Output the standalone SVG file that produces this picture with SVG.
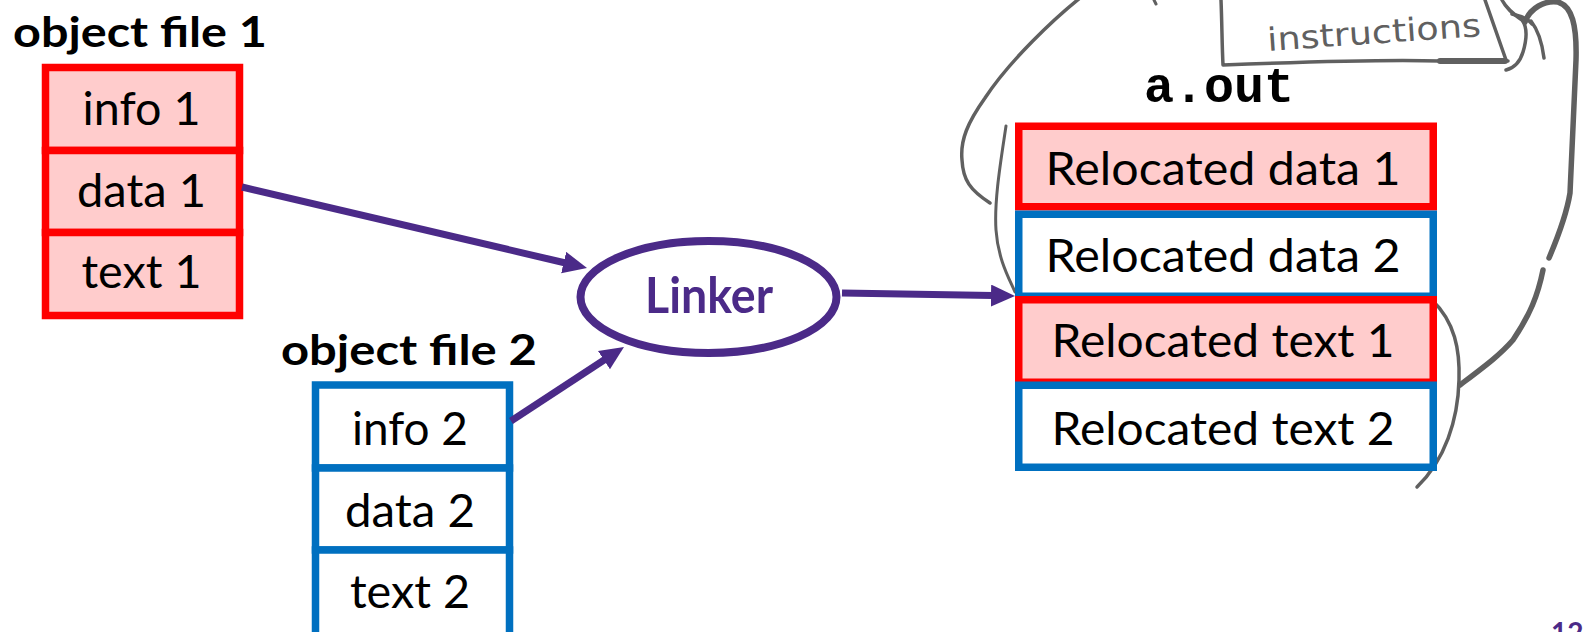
<svg xmlns="http://www.w3.org/2000/svg" width="1583" height="632" viewBox="0 0 1583 632">
<defs>
<marker id="ah" markerUnits="userSpaceOnUse" markerWidth="26" markerHeight="24" refX="2" refY="11" orient="auto">
<path d="M0,0 L24,11 L0,22 z" fill="#4B2A88"/>
</marker>
<style>
.red rect{fill:#FFCCCC;stroke:#FF0000;stroke-width:7.5}
.blue rect{fill:#FFFFFF;stroke:#0070C0;stroke-width:7.5}
.lbl{font-family:Lato,"Liberation Sans",sans-serif;font-size:46px;fill:#000000;text-anchor:middle}
.title{font-family:Lato,"Liberation Sans",sans-serif;font-size:42px;font-weight:bold;fill:#000000}
.conn{stroke:#4B2A88;stroke-width:7;fill:none;marker-end:url(#ah)}
.ink{stroke:#606060;fill:none;stroke-linecap:round;stroke-linejoin:round}
</style>
</defs>
<rect x="0" y="0" width="1583" height="632" fill="#FFFFFF"/>

<g id="annotations">
<path class="ink" stroke-width="3.5" d="M1080,-2 C1055,18 1010,60 985,98 C968,122 960,140 962,160 C963,180 970,190 990,203"/>
<path class="ink" stroke-width="3" d="M1006,126 C1001,160 994,200 996,230 C998,260 1010,280 1015,292"/>
<path class="ink" stroke-width="3.5" d="M1221,0 C1222,25 1222,45 1223,65 C1300,62 1380,59 1440,61 L1508,61"/>
<path class="ink" stroke-width="6" d="M1440,61 L1505,61"/>
<path class="ink" stroke-width="3.5" d="M1485,0 L1506,60"/>
<path class="ink" stroke-width="3.5" d="M1502,0 C1506,8 1512,13 1522,20 C1528,28 1526,42 1523,52 C1520,62 1514,68 1506,70"/>
<path class="ink" stroke-width="3.5" d="M1512,14 C1520,16 1528,18 1532,24 M1531,21 C1538,30 1542,42 1544,58"/>
<path class="ink" stroke-width="3" d="M1154,0 L1156,4"/>
<path class="ink" stroke-width="5.5" d="M1525,22 C1530,8 1545,0 1558,2 C1572,6 1577,25 1576,60 L1573,127 L1570,193 C1567,212 1560,232 1549,258 M1543,270 C1538,295 1530,315 1513,340 C1500,355 1485,366 1460,385"/>
<path class="ink" stroke-width="3.5" d="M1432,300 C1455,322 1460,350 1459,380 C1458,420 1445,460 1417,487"/>
<text x="1268" y="51" transform="rotate(-4 1268 51)" font-family="'DejaVu Sans',sans-serif" font-size="32" fill="#606060" textLength="214" lengthAdjust="spacingAndGlyphs">instructions</text>
</g>

<g id="objfile1">
<text class="title" x="13" y="47" textLength="254" lengthAdjust="spacingAndGlyphs">object file 1</text>
<g class="red">
<rect x="45.5" y="67.5" width="194" height="83"/>
<rect x="45.5" y="150.5" width="194" height="82"/>
<rect x="45.5" y="232.5" width="194" height="83"/>
</g>
<text class="lbl" x="141.5" y="125" textLength="118" lengthAdjust="spacingAndGlyphs">info 1</text>
<text class="lbl" x="141.5" y="207" textLength="129" lengthAdjust="spacingAndGlyphs">data 1</text>
<text class="lbl" x="141.5" y="288" textLength="120" lengthAdjust="spacingAndGlyphs">text 1</text>
</g>

<g id="objfile2">
<text class="title" x="281" y="365" textLength="256" lengthAdjust="spacingAndGlyphs">object file 2</text>
<g class="blue">
<rect x="315.5" y="385" width="194" height="83"/>
<rect x="315.5" y="468" width="194" height="82"/>
<rect x="315.5" y="550" width="194" height="86"/>
</g>
<text class="lbl" x="410" y="445" textLength="116" lengthAdjust="spacingAndGlyphs">info 2</text>
<text class="lbl" x="410" y="527" textLength="130" lengthAdjust="spacingAndGlyphs">data 2</text>
<text class="lbl" x="410" y="608" textLength="120" lengthAdjust="spacingAndGlyphs">text 2</text>
</g>

<g id="linker">
<ellipse cx="708.5" cy="297" rx="128" ry="56" fill="#FFFFFF" stroke="#4B2A88" stroke-width="8"/>
<text x="709" y="313" font-family="Lato,'Liberation Sans',sans-serif" font-size="50" font-weight="bold" fill="#4B2A88" text-anchor="middle" textLength="128" lengthAdjust="spacingAndGlyphs">Linker</text>
</g>

<g id="aout">
<text x="1144" y="102" font-family="'Liberation Mono','Courier New',monospace" font-size="50" font-weight="bold" fill="#000000">a.out</text>
<g class="red"><rect x="1018.75" y="126.25" width="414.5" height="80.5"/></g>
<g class="blue"><rect x="1018.75" y="214.25" width="414.5" height="82"/></g>
<g class="red"><rect x="1018.75" y="299.75" width="414.5" height="82.5"/></g>
<g class="blue"><rect x="1018.75" y="385.25" width="414.5" height="82"/></g>
<text class="lbl" x="1223" y="185" textLength="355" lengthAdjust="spacingAndGlyphs">Relocated data 1</text>
<text class="lbl" x="1223" y="272" textLength="355" lengthAdjust="spacingAndGlyphs">Relocated data 2</text>
<text class="lbl" x="1223" y="357" textLength="343" lengthAdjust="spacingAndGlyphs">Relocated text 1</text>
<text class="lbl" x="1223" y="445" textLength="343" lengthAdjust="spacingAndGlyphs">Relocated text 2</text>
</g>

<g id="connectors">
<path class="conn" d="M242,187 L565.6,263"/>
<path class="conn" d="M511,421 L605.6,359"/>
<path class="conn" d="M842,293 L993,295.6"/>
</g>

<text x="1551" y="643" font-family="Lato,'Liberation Sans',sans-serif" font-size="28" font-weight="bold" fill="#4B2A88">12</text>
</svg>
